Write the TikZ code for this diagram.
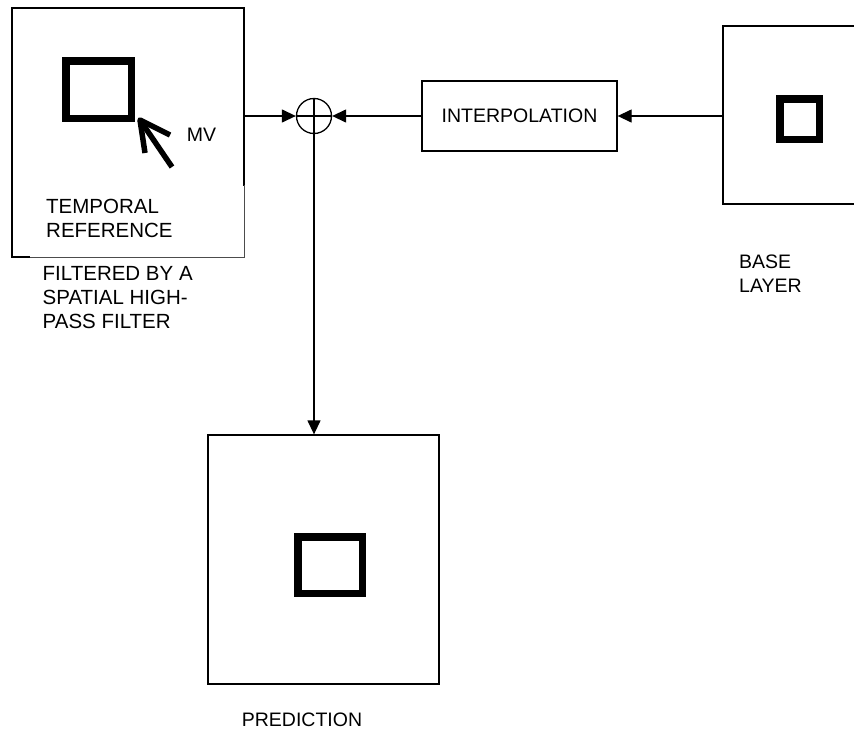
\documentclass[tikz,border=0pt]{standalone}
\usepackage{fontspec}
\setmainfont{Liberation Sans}
\usetikzlibrary{arrows.meta}
\begin{document}
\begin{tikzpicture}[x=1pt,y=-1pt,
  frame/.style={draw=black,line width=1.3pt,inner sep=0pt,rectangle},
  thick square/.style={draw=black,line width=7.5pt},
  lbl/.style={font=\fontsize{19.5}{24}\selectfont,align=left,inner sep=0pt},
  biglbl/.style={font=\fontsize{20.5}{24}\selectfont,align=left,inner sep=0pt},
  conn/.style={draw=black,line width=1.3pt,-{Triangle[length=14pt,width=13pt]}}]
\useasboundingbox (0,0) rectangle (854,731);
\clip (0,0) rectangle (854,731);
% temporal reference frame
\node[frame,minimum width=232pt,minimum height=249pt] (tr) at (128,132.5) {};
\fill[white] (30,186) rectangle (243.5,256.5);
\draw[black!70,line width=0.8pt] (30,257) -- (244,257) -- (244,185);
\draw[thick square] (65.75,60.75) rectangle (131.25,118.25);
\draw[line width=5.5pt] (172,167) -- (140,120);
\draw[line width=5.5pt,line join=round] (145,153) -- (140,120) -- (170,135);
\node[lbl] (mv) at (201.5,135) {MV};
\node[biglbl,anchor=west] (trtext) at (46,218) {TEMPORAL\\REFERENCE};
\node[biglbl,anchor=west] (filt) at (42.5,298) {FILTERED BY A\\SPATIAL HIGH-\\PASS FILTER};
% adder
\node[draw=black,line width=1.3pt,circle,minimum size=35pt,inner sep=0pt] (add) at (314,116) {};
\draw[line width=1.1pt] (add.north) -- (add.south) (add.west) -- (add.east);
% interpolation
\node[frame,minimum width=195pt,minimum height=70pt,lbl] (interp) at (519.5,116) {INTERPOLATION};
% base layer
\node[frame,minimum width=178pt,minimum height=178pt] (base) at (812,115) {};
\draw[thick square] (779.75,98.75) rectangle (819.25,139.25);
\node[lbl,anchor=west] (basetext) at (739,273.5) {BASE\\LAYER};
% prediction
\node[frame,minimum width=231pt,minimum height=249pt] (pred) at (323.5,559.5) {};
\draw[thick square] (297.75,536.75) rectangle (362.25,593.25);
\node[lbl] (predtext) at (302,720) {PREDICTION};
% connectors
\draw[conn] (tr.east |- add.west) -- (add.west);
\draw[conn] (interp.west) -- (add.east);
\draw[conn] (base.west |- interp.east) -- (interp.east);
\draw[conn] (add.south) -- (add.south |- pred.north);
\end{tikzpicture}
\end{document}
